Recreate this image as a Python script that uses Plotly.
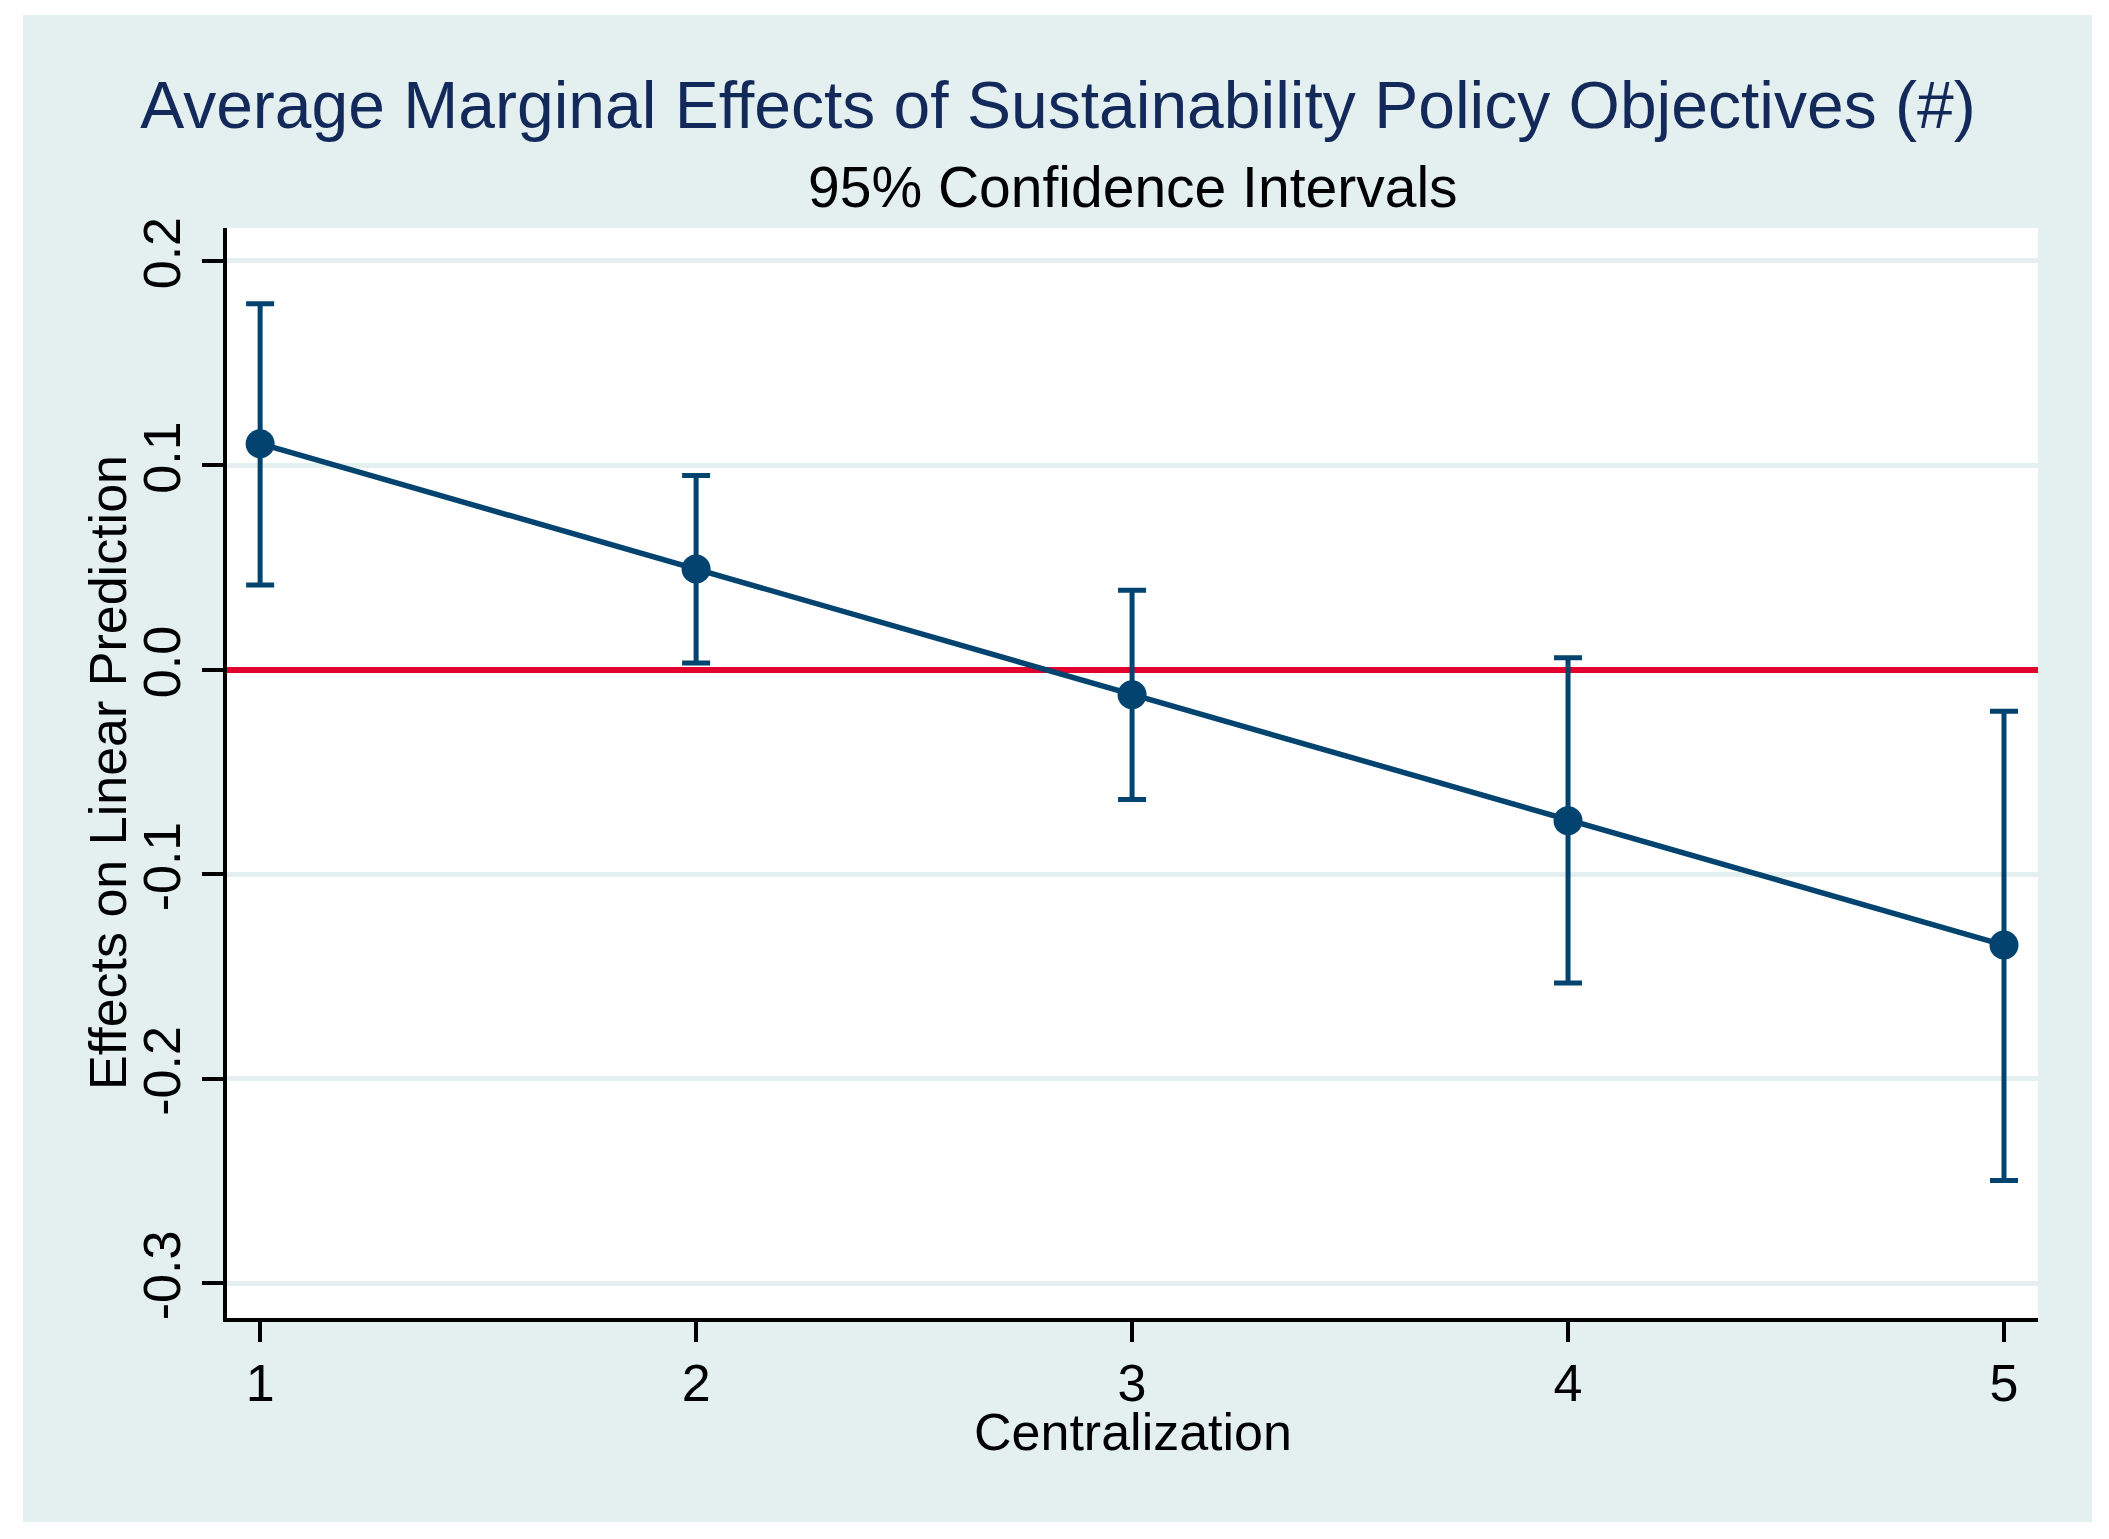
import plotly.graph_objects as go

# Data
centralization = [1, 2, 3, 4, 5]
effect = [0.1106, 0.0493, -0.0122, -0.0738, -0.1346]
ci_upper = [0.1790, 0.0950, 0.0389, 0.0059, -0.0202]
ci_lower = [0.0415, 0.0034, -0.0634, -0.1532, -0.2498]
y_ticks = [-0.3, -0.2, -0.1, 0.0, 0.1, 0.2]
y_ticktext = ["-0.3", "-0.2", "-0.1", "0.0", "0.1", "0.2"]
x_ticks = [1, 2, 3, 4, 5]

title_text = "Average Marginal Effects of Sustainability Policy Objectives (#)"
subtitle_text = "95% Confidence Intervals"
x_title = "Centralization"
y_title = "Effects on Linear Prediction"

NAVY = "#03436F"
BG = "#E4F0F0"
RED = "#E2002C"
TITLE_COLOR = "#13295A"
FONT = "Liberation Sans, Arial, sans-serif"

# page body has an 8px default margin; figure coordinates are offset accordingly
W, H = 2093, 1523
L, T = 219, 220
R = W - 2030
B = H - 1310
pw = W - L - R
ph = H - T - B

err_plus = [u - e for u, e in zip(ci_upper, effect)]
err_minus = [e - l for e, l in zip(effect, ci_lower)]

fig = go.Figure()
fig.add_trace(go.Scatter(
    x=centralization, y=effect, mode="lines+markers",
    line=dict(color=NAVY, width=5.5),
    marker=dict(color=NAVY, size=29),
    error_y=dict(type="data", symmetric=False, array=err_plus, arrayminus=err_minus,
                 color=NAVY, thickness=5, width=14),
    showlegend=False,
))

# outer graph region background
fig.add_shape(type="rect", xref="paper", yref="paper",
              x0=(15 - L) / pw, x1=(2084 - L) / pw,
              y0=(H - B - 1514) / ph, y1=(H - B - 7) / ph,
              fillcolor=BG, line_width=0, layer="below")
fig.add_shape(type="rect", xref="paper", yref="paper", x0=0, x1=1, y0=0, y1=1,
              fillcolor="white", line_width=0, layer="below")

fig.update_layout(
    width=W, height=H,
    margin=dict(l=L, r=R, t=T, b=B, pad=0),
    paper_bgcolor="white", plot_bgcolor="white",
    font=dict(family=FONT, color="black", size=52),
    title=dict(text=title_text, x=1050 / W, xref="container", xanchor="center",
               y=1 - 97 / H, yref="container", yanchor="middle",
               font=dict(family=FONT, size=66, color=TITLE_COLOR)),
    annotations=[
        dict(text=subtitle_text, xref="paper", yref="paper", x=0.5,
             y=(H - B - 178.5) / ph, xanchor="center", yanchor="middle",
             showarrow=False, font=dict(family=FONT, size=57, color="black")),
        dict(text=x_title, xref="paper", yref="paper", x=0.5,
             y=(H - B - 1424) / ph, xanchor="center", yanchor="middle",
             showarrow=False, font=dict(family=FONT, size=52, color="black")),
        dict(text=y_title, xref="paper", yref="paper", x=(100 - L) / pw,
             y=0.5, xanchor="center", yanchor="middle", textangle=-90,
             showarrow=False, font=dict(family=FONT, size=52, color="black")),
    ],
)

fig.update_xaxes(
    range=[0.924, 5.078], tickvals=x_ticks, ticktext=[str(v) for v in x_ticks],
    showgrid=False, zeroline=False, showline=True, linecolor="black", linewidth=4,
    ticks="outside", ticklen=20, tickwidth=4, tickcolor="black",
    tickfont=dict(size=52), ticklabelstandoff=-3,
)
fig.update_yaxes(
    range=[-0.317, 0.2161], tickvals=y_ticks, ticktext=y_ticktext, tickangle=-90,
    showgrid=True, gridcolor=BG, gridwidth=5,
    zeroline=True, zerolinecolor=RED, zerolinewidth=6,
    showline=True, linecolor="black", linewidth=4,
    ticks="outside", ticklen=21, tickwidth=4, tickcolor="black",
    tickfont=dict(size=52), ticklabelstandoff=1,
)

fig.write_html("out.html")
